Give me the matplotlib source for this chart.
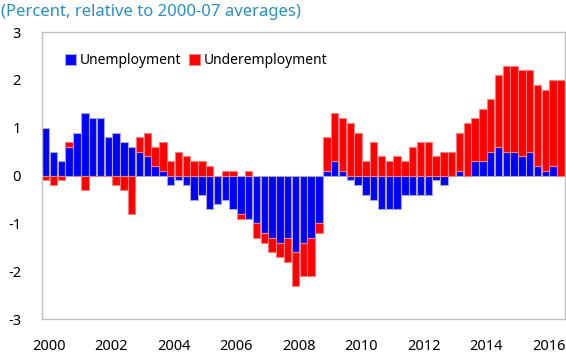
import numpy as np
import matplotlib
matplotlib.use('Agg')
from matplotlib import pyplot as plt

# quarterly, 2000Q1 .. 2016Q3
unemployment = [1.0, 0.5, 0.3, 0.6, 0.9, 1.3, 1.2, 1.2,
                0.8, 0.9, 0.7, 0.6, 0.5, 0.4, 0.2, 0.1,
                -0.2, -0.1, -0.2, -0.5, -0.4, -0.7, -0.6, -0.5,
                -0.7, -0.8, -0.9, -1.0, -1.2, -1.3, -1.4, -1.3,
                -1.6, -1.4, -1.3, -1.0, 0.1, 0.3, 0.1, -0.1,
                -0.2, -0.4, -0.5, -0.7, -0.7, -0.7, -0.4, -0.4,
                -0.4, -0.4, -0.1, -0.2, 0.0, 0.1, 0.0, 0.3,
                0.3, 0.5, 0.6, 0.5, 0.5, 0.4, 0.5, 0.2,
                0.1, 0.2, 0.0]
underemployment = [-0.1, -0.2, -0.1, 0.1, 0.0, -0.3, 0.0, 0.0,
                   0.0, -0.2, -0.3, -0.8, 0.3, 0.5, 0.4, 0.6,
                   0.3, 0.5, 0.4, 0.3, 0.3, 0.2, 0.0, 0.1,
                   0.1, -0.1, 0.1, -0.3, -0.2, -0.3, -0.3, -0.5,
                   -0.7, -0.7, -0.8, -0.2, 0.7, 1.0, 1.1, 1.1,
                   0.9, 0.3, 0.7, 0.4, 0.3, 0.4, 0.3, 0.6,
                   0.7, 0.7, 0.4, 0.5, 0.5, 0.8, 1.1, 0.9,
                   1.1, 1.1, 1.5, 1.8, 1.8, 1.8, 1.7, 1.7,
                   1.7, 1.8, 2.0]
year_labels = ['2000', '2002', '2004', '2006', '2008', '2010', '2012', '2014', '2016']
y_ticks = [-3, -2, -1, 0, 1, 2, 3]


def draw():
  plt.rcParams['font.family'] = ['Noto Sans', 'DejaVu Sans']
  fig = plt.figure(figsize=(5.66, 3.53), dpi=100)
  ax = fig.add_axes([0.074, 0.096, 0.924, 0.813])

  u = np.array(unemployment)
  d = np.array(underemployment)
  x = np.arange(len(u))
  # underemployment stacks on unemployment when they share a sign
  bottom = np.where(np.sign(u) == np.sign(d), u, 0.0)

  ax.bar(x, u, width=0.95, color='#0000ff', edgecolor='#a8a8c0',
         linewidth=0.8, label='Unemployment', zorder=2)
  ax.bar(x, d, bottom=bottom, width=0.95, color='#ff0000',
         edgecolor='#f08080', linewidth=0.8, label='Underemployment', zorder=2)

  ax.set_xlim(-0.5, len(u) - 0.5)
  ax.set_ylim(-3, 3)
  ax.set_yticks(y_ticks)
  ax.set_yticklabels([str(v) for v in y_ticks])
  ax.set_xticks(np.arange(len(year_labels)) * 8 + 0.4)
  ax.set_xticklabels(year_labels)
  ax.tick_params(length=0, labelsize=10.5, colors='black')
  ax.tick_params(axis='y', pad=15)
  ax.tick_params(axis='x', pad=14)
  for s in ax.spines.values():
    s.set_color('#c0c0c0')
    s.set_linewidth(1.0)

  ax.legend(loc='upper left', bbox_to_anchor=(0.02, 0.97), frameon=False,
            ncol=2, fontsize=10, handlelength=0.8, handleheight=0.8,
            handletextpad=0.3, columnspacing=0.5)

  fig.text(0.002, 0.965, '(Percent, relative to 2000-07 averages)',
           color='#2b8fc4', fontsize=12, ha='left', va='center')

  fig.savefig('out.png', dpi=100)


if __name__ == '__main__':
  draw()
